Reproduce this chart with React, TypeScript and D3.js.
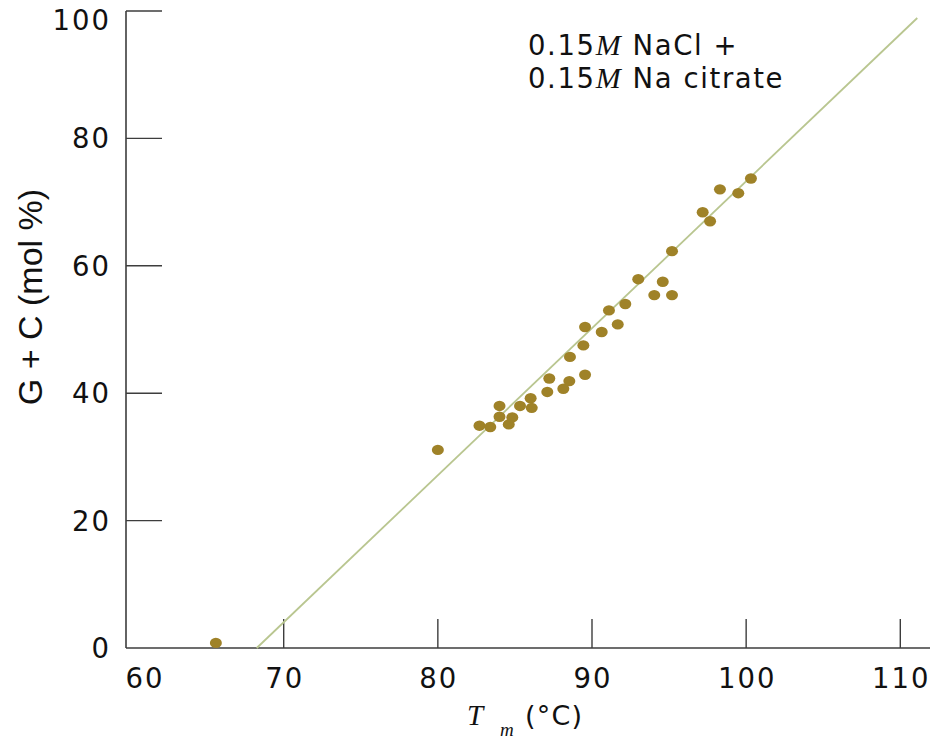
import React from "react";
import * as d3 from "d3";

// Melting temperature (°C) of DNA samples and their G + C content (mol %)
const tmValues = [
  65.6, 80.0, 82.7, 83.4, 84.0, 84.0, 84.6, 84.83, 85.33, 86.02, 86.09,
  87.1, 87.23, 88.14, 88.53, 88.57, 89.44, 89.55, 89.55, 90.63, 91.1,
  91.67, 92.16, 93.0, 94.04, 94.59, 95.19, 95.19, 97.18, 97.66, 98.3,
  99.49, 100.31,
];
const gcValues = [
  0.8, 31.1, 34.9, 34.7, 38.0, 36.3, 35.1, 36.2, 38.0, 39.2, 37.7,
  40.2, 42.3, 40.7, 41.9, 45.7, 47.5, 50.4, 42.9, 49.6, 53.0,
  50.8, 54.0, 57.9, 55.4, 57.5, 55.4, 62.3, 68.4, 67.0, 72.0,
  71.4, 73.7,
];

// Fitted line endpoints (Tm, G+C)
const fitTm = [68.25, 111.1];
const fitGc = [0, 98.9];

const xTicks = [60, 70, 80, 90, 100, 110];
const yTicks = [0, 20, 40, 60, 80, 100];

const W = 935;
const H = 742;

const x = d3.scaleLinear().domain([70, 110]).range([283.7, 900.3]);
const y = d3.scaleLinear().domain([0, 100]).range([648, 11]);

const AXIS = "#3d3d3d";
const DOT = "#9f8228";
const FIT = "#b9c690";
const SANS = "'DejaVu Sans', sans-serif";
const SERIF = "'Liberation Serif', 'DejaVu Serif', serif";

const axisLeft = 126;
const axisRight = 930;

export default function App() {
  const line = d3
    .line<number>()
    .x((_, i) => x(fitTm[i]))
    .y((_, i) => y(fitGc[i]));

  return (
    <svg
      width={W}
      height={H}
      style={{ position: "absolute", left: 0, top: 0, background: "#fff" }}
    >
      {/* axes */}
      <line x1={axisLeft} x2={axisLeft} y1={y(100)} y2={y(0)} stroke={AXIS} strokeWidth={1.6} />
      <line x1={axisLeft} x2={axisRight} y1={y(0)} y2={y(0)} stroke={AXIS} strokeWidth={1.6} />

      {yTicks.map((t) => (
        <g key={"y" + t}>
          {t > 0 && (
            <line x1={axisLeft} x2={axisLeft + 36} y1={y(t)} y2={y(t)} stroke={AXIS} strokeWidth={1.4} />
          )}
          <text
            x={111}
            y={Math.max(y(t), 20)}
            dy="0.36em"
            textAnchor="end"
            fontFamily={SANS}
            fontSize={27.5}
            letterSpacing={2}
            fill="#111"
          >
            {t}
          </text>
        </g>
      ))}

      {xTicks.map((t) => (
        <g key={"x" + t}>
          {t > 60 && (
            <line x1={x(t)} x2={x(t)} y1={y(0)} y2={y(0) - 29} stroke={AXIS} strokeWidth={1.4} />
          )}
          <text
            x={t === 60 ? 145 : x(t) + 1}
            y={688}
            textAnchor="middle"
            fontFamily={SANS}
            fontSize={27.5}
            letterSpacing={2}
            fill="#111"
          >
            {t}
          </text>
        </g>
      ))}

      {/* fitted line */}
      <path d={line(fitTm) ?? ""} fill="none" stroke={FIT} strokeWidth={1.8} />

      {/* data points */}
      {tmValues.map((tm, i) => (
        <ellipse key={i} cx={x(tm)} cy={y(gcValues[i])} rx={6} ry={5.2} fill={DOT} />
      ))}

      {/* legend */}
      <text x={528} y={55} fontFamily={SANS} fontSize={27.5} letterSpacing={1.6} fill="#111">
        0.15
        <tspan fontFamily={SERIF} fontStyle="italic" fontSize={30}>M</tspan>
        <tspan> NaCl +</tspan>
      </text>
      <text x={528} y={88} fontFamily={SANS} fontSize={27.5} letterSpacing={1.6} fill="#111">
        0.15
        <tspan fontFamily={SERIF} fontStyle="italic" fontSize={30}>M</tspan>
        <tspan> Na citrate</tspan>
      </text>

      {/* axis titles */}
      <text x={467} y={725} fontFamily={SERIF} fontStyle="italic" fontSize={29} fill="#111">
        T
      </text>
      <text x={500} y={736} fontFamily={SERIF} fontStyle="italic" fontSize={19} fill="#111">
        m
      </text>
      <text x={525} y={725} fontFamily={SANS} fontSize={27} letterSpacing={1.2} fill="#111">
        (°C)
      </text>

      <text
        transform="translate(42,297) rotate(-90)"
        textAnchor="middle"
        fontFamily="'Liberation Sans', Arial, sans-serif"
        fontSize={34}
        fill="#111"
      >
        G + C (mol %)
      </text>
    </svg>
  );
}
